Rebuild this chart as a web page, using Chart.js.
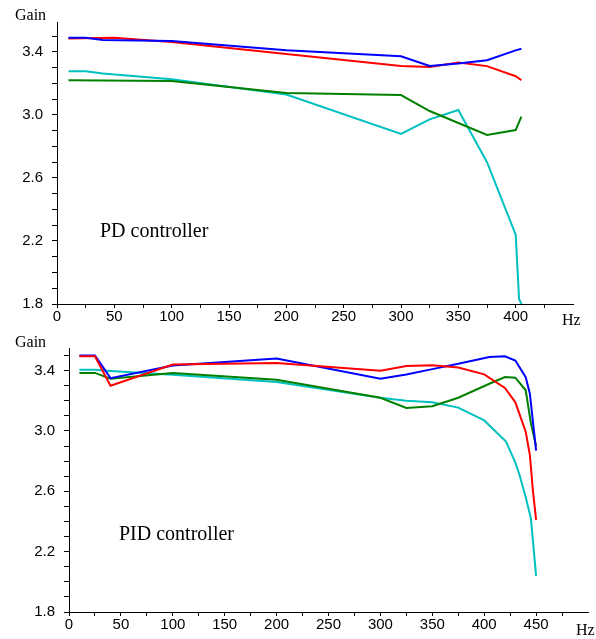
<!DOCTYPE html>
<html>
<head>
<meta charset="utf-8">
<script src="https://cdn.jsdelivr.net/npm/chart.js@4.4.1/dist/chart.umd.min.js"></script>
<style>
    body { margin: 0; background: #fff; }
    #wrap { position: relative; width: 596px; height: 639px; }
    canvas { position: absolute; left: 0; }
</style>
</head>
<body>
<div id="wrap">
    <canvas id="pdChart" width="596" height="330" style="top:0"></canvas>
    <canvas id="pidChart" width="596" height="309" style="top:330px"></canvas>
</div>
<script>
// PD controller data (Hz, Gain)
const pdBlueHz = [10, 25, 40, 100, 200, 300, 325, 350, 375, 400, 405];
const pdBlueGain = [3.49, 3.49, 3.476, 3.47, 3.41, 3.373, 3.311, 3.326, 3.347, 3.41, 3.42];
const pdRedHz = [10, 50, 100, 200, 300, 325, 350, 375, 400, 405];
const pdRedGain = [3.485, 3.49, 3.463, 3.387, 3.311, 3.305, 3.333, 3.31, 3.246, 3.22];
const pdGreenHz = [10, 100, 200, 300, 325, 375, 400, 405];
const pdGreenGain = [3.221, 3.215, 3.14, 3.126, 3.025, 2.873, 2.904, 2.989];
const pdCyanHz = [10, 25, 40, 100, 200, 300, 325, 350, 375, 400, 403, 405];
const pdCyanGain = [3.278, 3.278, 3.263, 3.227, 3.13, 2.879, 2.972, 3.031, 2.70, 2.24, 1.83, 1.80];

// PID controller data (Hz, Gain)
const pidBlueHz = [10, 25, 40, 100, 200, 300, 325, 350, 375, 405, 420, 430, 440, 444, 450];
const pidBlueGain = [3.50, 3.50, 3.35, 3.434, 3.48, 3.346, 3.375, 3.41, 3.445, 3.49, 3.495, 3.467, 3.357, 3.247, 2.87];
const pidRedHz = [10, 25, 40, 100, 200, 300, 325, 350, 375, 400, 420, 430, 440, 444, 447, 450];
const pidRedGain = [3.495, 3.495, 3.30, 3.44, 3.45, 3.40, 3.43, 3.436, 3.42, 3.375, 3.285, 3.19, 2.995, 2.84, 2.6, 2.41];
const pidGreenHz = [10, 25, 40, 100, 200, 300, 325, 350, 375, 405, 420, 430, 440, 445, 450];
const pidGreenGain = [3.385, 3.385, 3.346, 3.385, 3.34, 3.22, 3.153, 3.164, 3.22, 3.313, 3.357, 3.353, 3.27, 3.05, 2.9];
const pidCyanHz = [10, 25, 40, 100, 200, 300, 325, 350, 375, 400, 421, 430, 434, 440, 445, 450];
const pidCyanGain = [3.405, 3.405, 3.397, 3.372, 3.325, 3.22, 3.2, 3.19, 3.155, 3.07, 2.93, 2.79, 2.71, 2.56, 2.42, 2.04];

// tick labels
const pdXLabels = [0, 50, 100, 150, 200, 250, 300, 350, 400];
const pidXLabels = [0, 50, 100, 150, 200, 250, 300, 350, 400, 450];
const yLabels = [1.8, 2.2, 2.6, 3.0, 3.4];

const BLUE = '#0000ff', RED = '#ff0000', GREEN = '#008000', CYAN = '#00c0c0';

function pts(xs, ys) {
    return xs.map((x, i) => ({ x: x, y: ys[i] }));
}

function line(data, color) {
    return {
        data: data,
        borderColor: color,
        borderWidth: 2,
        pointRadius: 0,
        tension: 0,
        fill: false
    };
}

// builds ticks every `step` from min up to (not including) max
function stepTicks(step) {
    return function (scale) {
        const ticks = [];
        for (let i = 0; scale.min + i * step < scale.max - 1e-6; i++) {
            ticks.push({ value: +(scale.min + i * step).toFixed(4) });
        }
        scale.ticks = ticks;
    };
}

function textPlugin(items) {
    return {
        id: 'extraText',
        afterDraw(chart) {
            const ctx = chart.ctx;
            ctx.save();
            ctx.fillStyle = '#000';
            ctx.textBaseline = 'alphabetic';
            items.forEach(t => {
                ctx.font = t.size + 'px "Liberation Serif", "Times New Roman", serif';
                ctx.fillText(t.text, t.x, t.y);
            });
            ctx.restore();
        }
    };
}

function makeChart(id, datasets, opt) {
    const tickFont = { family: '"Liberation Sans", Arial, sans-serif', size: 15 };
    return new Chart(document.getElementById(id), {
        type: 'line',
        data: { datasets: datasets },
        options: {
            responsive: false,
            animation: false,
            layout: { padding: opt.padding },
            plugins: { legend: { display: false }, tooltip: { enabled: false } },
            scales: {
                x: {
                    type: 'linear',
                    min: 0,
                    max: opt.xMax,
                    afterBuildTicks: stepTicks(25),
                    afterFit: s => { s.height = opt.xHeight; },
                    grid: { drawOnChartArea: false, drawTicks: true, tickLength: 4, color: '#000' },
                    border: { display: true, color: '#000', width: 1 },
                    ticks: {
                        autoSkip: false,
                        maxRotation: 0,
                        padding: 0,
                        color: '#000',
                        font: tickFont,
                        callback: v => opt.xLabels.includes(Math.round(v)) ? String(Math.round(v)) : ''
                    }
                },
                y: {
                    type: 'linear',
                    min: 1.8,
                    max: opt.yMax,
                    afterBuildTicks: stepTicks(0.1),
                    afterFit: s => { s.width = opt.yWidth; },
                    grid: { drawOnChartArea: false, drawTicks: true, tickLength: 5, color: '#000' },
                    border: { display: true, color: '#000', width: 1 },
                    ticks: {
                        autoSkip: false,
                        padding: 9,
                        color: '#000',
                        font: tickFont,
                        callback: v => yLabels.some(l => Math.abs(l - v) < 1e-6) ? v.toFixed(1) : ''
                    }
                }
            }
        },
        plugins: [textPlugin(opt.texts)]
    });
}

document.addEventListener('DOMContentLoaded', function () {
    makeChart('pdChart', [
        line(pts(pdBlueHz, pdBlueGain), BLUE),
        line(pts(pdRedHz, pdRedGain), RED),
        line(pts(pdGreenHz, pdGreenGain), GREEN),
        line(pts(pdCyanHz, pdCyanGain), CYAN)
    ], {
        xMax: 450, yMax: 3.59, xLabels: pdXLabels,
        padding: { top: 22, right: 23, left: 0, bottom: 0 },
        yWidth: 57, xHeight: 26,
        texts: [
            { text: 'Gain', x: 15, y: 20, size: 16 },
            { text: 'Hz', x: 562, y: 325, size: 16 },
            { text: 'PD controller', x: 100, y: 237, size: 20 }
        ]
    });

    makeChart('pidChart', [
        line(pts(pidRedHz, pidRedGain), RED),
        line(pts(pidBlueHz, pidBlueGain), BLUE),
        line(pts(pidGreenHz, pidGreenGain), GREEN),
        line(pts(pidCyanHz, pidCyanGain), CYAN)
    ], {
        xMax: 500, yMax: 3.55, xLabels: pidXLabels,
        padding: { top: 15, right: 8, left: 0, bottom: 0 },
        yWidth: 69, xHeight: 27,
        texts: [
            { text: 'Gain', x: 15, y: 17, size: 16 },
            { text: 'Hz', x: 576, y: 305, size: 16 },
            { text: 'PID controller', x: 119, y: 210, size: 20 }
        ]
    });
});
</script>
</body>
</html>
